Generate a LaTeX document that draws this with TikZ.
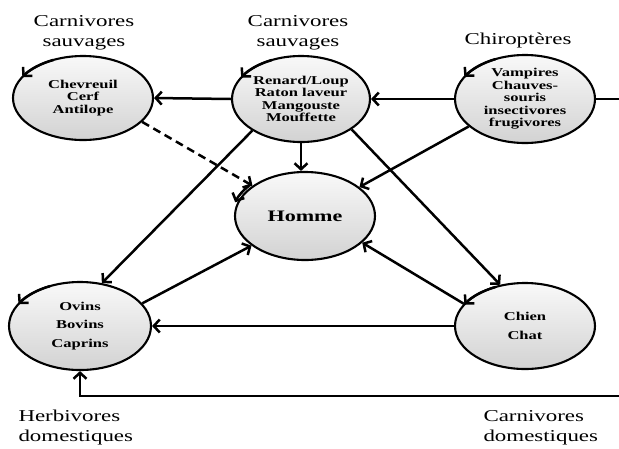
\documentclass[tikz,border=0pt]{standalone}
\usepackage{fontspec}
\setmainfont[FakeStretch=1.38]{Liberation Serif}
\usetikzlibrary{shapes.geometric,arrows.meta}
\begin{document}
\begin{tikzpicture}[x=1pt,y=1pt,
  bub/.style={ellipse, draw, line width=2.1pt, top color=gray!5, bottom color=gray!35, inner sep=0pt, align=center, font=\fontsize{12}{12.5}\selectfont\bfseries},
  arr/.style={line width=2.5pt, -{Straight Barb[length=6pt,width=13pt]}},
  ln/.style={line width=2.5pt},
  lbl/.style={align=center, font=\fontsize{16.6}{20}\selectfont}]
\useasboundingbox (0,0) rectangle (619,-448);
% nodes
\node[bub, minimum width=140pt, minimum height=84pt] (chev) at (83,-98) {Chevreuil\\Cerf\\Antilope};
\node[bub, minimum width=138pt, minimum height=86pt] (ren) at (301,-99) {Renard/Loup\\Raton laveur\\Mangouste\\Mouffette};
\node[bub, minimum width=140pt, minimum height=88pt] (vamp) at (525,-99) {Vampires\\Chauves-\\souris\\insectivores\\frugivores};
\node[bub, minimum width=140pt, minimum height=88pt, font=\fontsize{16}{18}\selectfont\bfseries] (hom) at (305,-216) {Homme};
\node[bub, minimum width=142pt, minimum height=88pt, font=\fontsize{12}{18.5}\selectfont\bfseries] (ovi) at (80,-326) {Ovins\\Bovins\\Caprins};
\node[bub, minimum width=140pt, minimum height=86pt, font=\fontsize{12}{19}\selectfont\bfseries] (chi) at (525,-326) {Chien\\Chat};
% labels
\node[lbl] (l1) at (84,-33) {Carnivores\\sauvages};
\node[lbl] (l2) at (298,-33) {Carnivores\\sauvages};
\node[lbl] (l3) at (518,-40) {Chiroptères};
\node[lbl, align=left, anchor=west] (l4) at (15,-428) {Herbivores\\domestiques};
\node[lbl, align=left, anchor=west] (l5) at (480,-428) {Carnivores\\domestiques};
% self loops
\draw[arr] (chev.center) ++(115:70pt and 42pt) arc[start angle=115, end angle=150, x radius=70pt, y radius=42pt];
\draw[arr] (ren.center) ++(115:69pt and 43pt) arc[start angle=115, end angle=150, x radius=69pt, y radius=43pt];
\draw[arr] (vamp.center) ++(115:70pt and 44pt) arc[start angle=115, end angle=150, x radius=70pt, y radius=44pt];
\draw[arr] (hom.center) ++(140:73pt and 47pt) arc[start angle=140, end angle=163, x radius=73pt, y radius=47pt];
\draw[arr] (ovi.center) ++(115:71pt and 44pt) arc[start angle=115, end angle=150, x radius=71pt, y radius=44pt];
\draw[arr] (chi.center) ++(115:70pt and 43pt) arc[start angle=115, end angle=150, x radius=70pt, y radius=43pt];
% connectors
\coordinate (vr) at (619,-99);
\coordinate (br) at (619,-396);
\draw[arr] (ren.west) -- (chev.east);
\draw[arr] (vamp.west) -- (ren.east);
\draw[ln] (vamp.east) -- (vr);
\draw[arr] (ren.south) -- (ren.south |- hom.north);
\draw[arr, dash pattern=on 8pt off 5pt] (chev.338) -- (hom.150);
\draw[arr] (vamp.206) -- (hom.28);
\draw[arr] (ren.213) -- (ovi.63);
\draw[arr] (ren.329) -- (chi.121);
\draw[arr] (ovi.20) -- (hom.209);
\draw[arr] (chi.160) -- (hom.335);
\draw[arr] (chi.west) -- (ovi.east);
\draw[arr] (br) -| (ovi.south);
\end{tikzpicture}
\end{document}
